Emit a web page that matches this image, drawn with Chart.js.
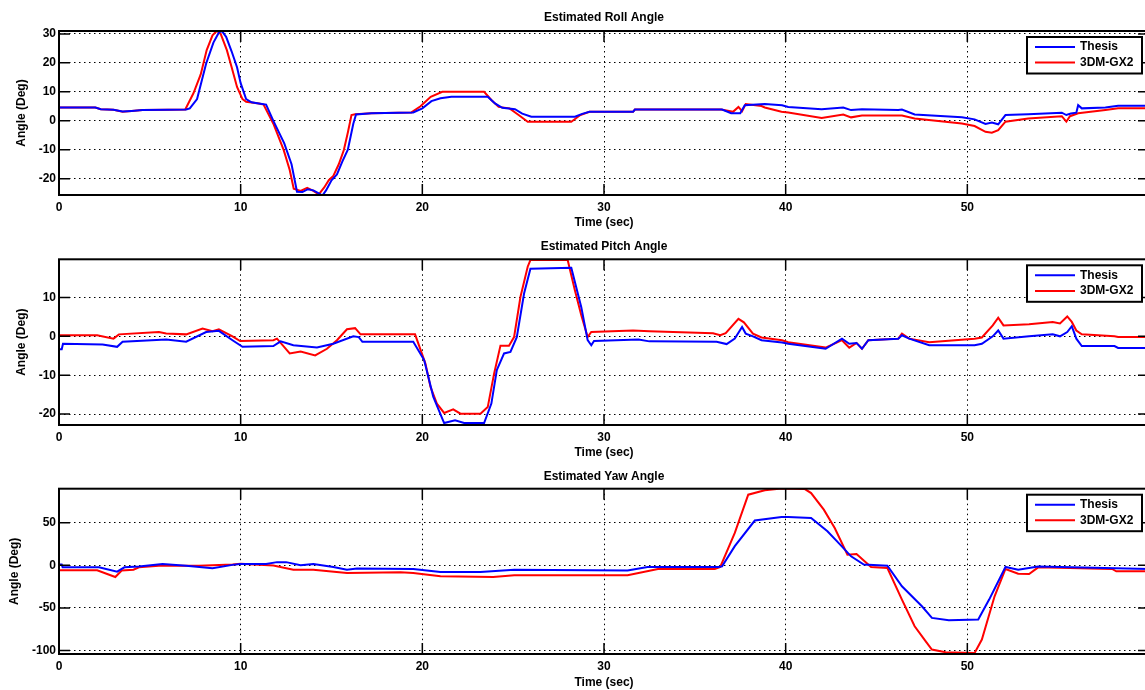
<!DOCTYPE html>
<html><head><meta charset="utf-8">
<script src="https://cdn.jsdelivr.net/npm/chart.js@4/dist/chart.umd.min.js"></script>
<style>
html,body{margin:0;padding:0;background:#fff;overflow:hidden;width:1145px;height:690px;position:relative;}
canvas{position:absolute;left:0;}
</style></head><body>
<canvas id="c1" width="1152" height="230" style="top:0px"></canvas>
<canvas id="c2" width="1152" height="230" style="top:230px"></canvas>
<canvas id="c3" width="1152" height="230" style="top:460px"></canvas>
<script>
// ---------- tick labels ----------
const xTicks = [0, 10, 20, 30, 40, 50];
const rollTicks = [-20, -10, 0, 10, 20, 30];
const pitchTicks = [-20, -10, 0, 10];
const yawTicks = [-100, -50, 0, 50];
const seriesNames = ['Thesis', '3DM-GX2'];
const titles = ['Estimated Roll Angle', 'Estimated Pitch Angle', 'Estimated Yaw Angle'];

// ---------- Roll ----------
const rollThesisT = [0,2.0,2.3,3.0,3.5,4.0,4.6,6.0,7.0,7.2,7.6,8.1,8.5,8.8,8.96,9.2,9.5,9.8,10.0,10.3,10.6,11.0,11.4,11.8,12.4,12.8,13.1,13.4,13.7,14.0,14.3,14.5,14.7,15.0,15.3,15.6,15.9,16.2,16.35,17.2,19.5,20.0,20.5,21.0,21.6,23.6,24.0,24.4,25.1,25.5,26.0,28.4,28.8,29.2,31.6,31.7,36.5,37.0,37.5,37.75,38.85,39.8,40.14,41.98,43.17,43.6,44.2,46.2,46.4,47.1,49.7,50.4,51.0,51.35,51.7,52.1,53.35,55.2,55.45,55.7,56.0,56.1,56.3,57.6,58.3,60];
const rollThesisV = [4.6,4.6,4.0,3.8,3.2,3.4,3.7,3.8,3.9,4.3,7.5,19.8,27,30.5,31,29,24,18.5,13,7.5,6.4,6.0,5.6,0,-7.8,-15,-24.5,-24.6,-23.6,-24,-25,-25.8,-24,-20.5,-18.5,-14,-10,-1,2.2,2.6,2.9,4.3,6.8,7.8,8.3,8.3,6.0,4.5,4.0,2.5,1.4,1.4,2.4,3.1,3.1,3.9,3.9,2.6,2.6,5.4,5.8,5.4,4.8,4.0,4.6,3.7,4.0,3.7,3.9,2.2,1.2,0.5,-1.1,-0.6,-1.2,2.0,2.3,2.8,2.0,2.5,2.8,5.4,4.3,4.6,5.2,5.2];
const rollGX2T = [0,2.0,2.3,3.0,3.5,4.0,4.6,6.0,6.95,7.4,7.8,8.13,8.45,8.69,8.9,9.24,9.5,9.8,10.1,10.3,11.0,11.26,11.8,12.37,12.7,12.92,13.3,13.66,14.0,14.3,14.6,14.85,15.1,15.4,15.68,15.9,16.1,16.3,17.2,19.4,19.9,20.46,21.1,23.4,23.8,24.2,24.8,25.3,25.8,28.2,28.7,29.2,31.6,31.7,36.45,37.1,37.4,37.6,37.8,38.67,38.85,39.77,40.14,41.98,43.17,43.6,44.2,46.4,47.1,49.7,50.4,51.0,51.35,51.7,52.1,53.35,55.2,55.45,55.65,56.1,57.6,58.3,60];
const rollGX2V = [4.6,4.6,4.0,3.8,3.1,3.4,3.7,3.8,3.9,9.5,16,24.4,29.5,31.1,30,24.4,18.6,11.7,7.5,6.6,6.0,5.6,-1,-10.1,-17,-23.4,-24.2,-23.1,-24.2,-25.4,-23,-20.5,-19,-15,-10.1,-4,2.0,2.3,2.6,2.9,5,8.3,10,10,7.2,4.8,4.3,2.0,-0.3,-0.3,2.0,3.1,3.1,3.9,3.9,3.1,4.8,3.3,5.8,5.1,4.6,3.1,2.9,1.0,2.2,1.2,1.8,1.8,0.8,-0.9,-1.8,-3.8,-4.1,-3.2,-0.3,0.8,1.6,-0.3,1.6,2.6,3.7,4.3,4.3];

// ---------- Pitch ----------
const pitchThesisT = [0,0.15,0.22,2.4,3.2,3.5,5.9,7.0,8.1,8.8,9.55,10.1,11.8,12.2,12.9,14.2,15.1,16.2,16.5,16.7,19.5,20.1,20.6,21.2,21.8,22.3,23.4,23.8,24.1,24.5,24.85,25.2,25.6,25.95,28.2,28.75,29.1,29.3,29.45,31.9,32.5,36.2,36.75,37.2,37.6,37.8,38.2,38.67,39.8,40.14,42.2,43.1,43.5,43.9,44.2,44.55,46.2,46.4,46.8,47.9,50.4,50.8,51.4,51.7,51.99,53.4,54.7,55.1,55.5,55.75,56.0,56.3,58.1,58.3,60];
const pitchThesisV = [-3.3,-3.3,-1.9,-2.1,-2.7,-1.4,-0.8,-1.4,1.1,1.4,-1.0,-2.7,-2.5,-1.3,-2.3,-2.9,-1.9,0,-0.2,-1.4,-1.4,-6.1,-15.5,-22.3,-21.6,-22.3,-22.3,-17.3,-8.7,-4.4,-4.0,-0.2,11.0,17.4,17.6,7.5,-1.0,-2.3,-1.2,-0.8,-1.3,-1.4,-2.0,-0.6,2.4,0.7,0,-1.0,-1.6,-1.9,-3.2,-0.6,-1.9,-1.7,-3.2,-1.0,-0.6,0.26,-0.6,-2.3,-2.3,-1.9,0,1.5,-0.6,0,0.5,0,1.1,2.6,-0.6,-2.5,-2.5,-3.0,-3.0];
const pitchGX2T = [0,2.1,3.0,3.3,5.5,5.9,7.0,7.9,8.45,8.8,9.55,9.97,11.8,12.0,12.7,13.3,14.1,14.75,15.3,15.85,16.3,16.6,19.6,20.17,20.45,20.8,21.2,21.7,22.1,23.2,23.6,23.95,24.3,24.77,25.05,25.4,25.8,25.95,28.0,28.4,28.75,29.1,29.3,31.6,32.5,36.0,36.4,36.7,37.4,37.7,38.2,38.67,39.8,40.14,42.2,43.1,43.5,43.9,44.2,44.55,46.2,46.4,46.8,47.9,50.4,50.8,51.4,51.7,51.99,53.4,54.7,55.1,55.5,55.75,56.0,56.3,58.1,58.3,60];
const pitchGX2V = [0.3,0.3,-0.6,0.5,1.1,0.7,0.5,2.0,1.3,1.8,0,-1.2,-1.0,-0.6,-4.4,-3.9,-4.9,-3.2,-1.0,1.8,2.1,0.5,0.5,-7.0,-13,-17.3,-19.7,-18.8,-19.9,-19.9,-18.2,-9.6,-2.4,-2.4,-0.2,10.1,17.9,19.6,19.6,11.8,5.4,-0.2,1.1,1.5,1.3,0.8,0.26,0.8,4.5,3.6,0.7,-0.3,-1.0,-1.5,-2.9,-1.0,-2.9,-1.7,-3.2,-1.0,-0.6,0.7,-0.6,-1.5,-0.6,-0.3,2.8,4.8,2.8,3.1,3.7,3.3,5.1,3.7,1.5,0.5,0,-0.2,-0.2];

// ---------- Yaw ----------
const yawThesisT = [0,0.15,0.2,2.2,3.2,3.6,4.4,5.7,7.0,8.45,9.55,9.97,11.4,12.0,12.5,13.3,14.0,15.1,15.85,16.4,19.5,20.99,23.2,25.06,31.3,32.4,36.3,36.5,37.2,38.3,39.77,40.14,41.4,42.3,43.0,43.6,44.3,45.6,46.4,47.5,48.05,48.98,50.6,51.2,52.1,52.8,53.9,60];
const yawThesisV = [0.8,0.8,-2.4,-2.4,-7.4,-2.4,-1.3,1.4,-0.6,-3.4,0.5,1.4,1.4,3.7,3.7,0.1,1.4,-2.0,-5.1,-3.9,-4.3,-7.8,-7.8,-5.1,-6.2,-2.0,-2.0,-1.3,22.4,52.5,56.7,56.7,55.5,39.8,24.2,10.5,0.8,-0.4,-24.6,-48.0,-61.7,-64.4,-63.6,-40.2,-2.0,-5.1,-1.3,-4.3];
const yawGX2T = [0,2.1,3.1,3.45,4.1,4.4,5.5,7.7,9.55,10.0,11.8,12.9,14.0,15.85,18.8,19.5,21.0,23.9,25.06,31.3,32.97,36.1,36.4,37.2,37.94,38.85,39.77,41.06,41.4,42.1,42.7,43.4,43.9,44.7,45.6,46.4,47.1,47.7,48.05,48.8,50.4,50.8,51.5,52.1,52.8,53.4,53.9,57.97,58.2,60];
const yawGX2V = [-5.9,-5.9,-13.7,-6.2,-5.1,-2.4,-0.6,-0.6,1.0,1.7,-0.2,-5.1,-5.1,-9.0,-8.2,-9.0,-12.9,-13.7,-11.7,-11.7,-4.3,-4.3,-2.0,38.0,82.8,87.9,90,89.4,84.7,65.2,43.7,12.5,13.3,-2.0,-3.2,-40.2,-71.5,-89.0,-98.8,-101.9,-102.7,-87.1,-36.3,-4.3,-9.8,-10.2,-2.4,-4.3,-7.0,-7.0];

// ---------- drawing ----------
const FONT = '"Liberation Sans", Arial, Helvetica, sans-serif';
Chart.defaults.font.family = FONT;
Chart.defaults.color = '#000';

function pts(t, v) { return t.map((x, i) => ({ x: x, y: v[i] })); }

const framePlugin = {
  id: 'frame',
  afterDraw(chart) {
    const ctx = chart.ctx, a = chart.chartArea, xs = chart.scales.x, ys = chart.scales.y;
    const opt = chart.options.plugins.frame;
    ctx.save();
    ctx.strokeStyle = '#000';
    ctx.lineWidth = 1.5;
    ctx.beginPath();
    xs.ticks.forEach(t => {
      const p = xs.getPixelForValue(t.value);
      ctx.moveTo(p, a.bottom); ctx.lineTo(p, a.bottom - 11);
      ctx.moveTo(p, a.top); ctx.lineTo(p, a.top + 11);
    });
    ys.ticks.forEach(t => {
      const p = ys.getPixelForValue(t.value);
      ctx.moveTo(a.left, p); ctx.lineTo(a.left + 11, p);
      ctx.moveTo(a.right, p); ctx.lineTo(a.right - 11, p);
    });
    ctx.stroke();
    ctx.lineWidth = 2;
    ctx.strokeRect(a.left, a.top, a.right - a.left, a.bottom - a.top);
    // legend box
    const bx = a.right - 122, by = a.top + opt.legendTop, bw = 115, bh = 36.5;
    ctx.fillStyle = '#fff';
    ctx.fillRect(bx, by, bw, bh);
    ctx.strokeRect(bx, by, bw, bh);
    chart.data.datasets.forEach((d, i) => {
      const cy = by + 10 + i * 15.6;
      ctx.strokeStyle = d.borderColor;
      ctx.lineWidth = 2;
      ctx.beginPath(); ctx.moveTo(bx + 8, cy); ctx.lineTo(bx + 48, cy); ctx.stroke();
      ctx.fillStyle = '#000';
      ctx.font = 'bold 12px ' + FONT;
      ctx.textBaseline = 'middle';
      ctx.textAlign = 'left';
      ctx.fillText(d.label, bx + 53, cy);
    });
    ctx.restore();
  }
};

function makeChart(id, c) {
  return new Chart(document.getElementById(id), {
    type: 'line',
    data: {
      datasets: [
        { label: seriesNames[0], data: pts(c.t1, c.v1), borderColor: '#0000ff', backgroundColor: '#0000ff', borderWidth: 2, pointRadius: 0, tension: 0 },
        { label: seriesNames[1], data: pts(c.t2, c.v2), borderColor: '#ff0000', backgroundColor: '#ff0000', borderWidth: 2, pointRadius: 0, tension: 0 }
      ]
    },
    options: {
      responsive: false, animation: false, devicePixelRatio: 1,
      events: [],
      layout: { padding: { left: 0, right: 3, top: 0, bottom: 0 } },
      plugins: {
        legend: { display: false },
        tooltip: { enabled: false },
        title: { display: true, text: c.title, fullSize: false, color: '#000',
                 font: { size: 12, weight: 'bold' }, padding: { top: c.tp, bottom: c.tb } },
        frame: { legendTop: 6 }
      },
      scales: {
        x: {
          type: 'linear', min: 0, max: 60,
          afterBuildTicks: s => { s.ticks = xTicks.map(v => ({ value: v })); },
          afterFit: s => { s.height = c.xh; },
          grid: { color: '#000', lineWidth: 1, drawTicks: false },
          border: { display: false, dash: [1.5, 3.5] },
          ticks: { color: '#000', font: { size: 12, weight: 'bold' }, padding: 5, maxRotation: 0, autoSkip: false },
          title: { display: true, text: 'Time (sec)', color: '#000', font: { size: 12, weight: 'bold' }, padding: { top: 0, bottom: 0.5 } }
        },
        y: {
          type: 'linear', min: c.ymin, max: c.ymax,
          afterBuildTicks: s => { s.ticks = c.yt.map(v => ({ value: v })); },
          afterFit: s => { s.width = 59; },
          grid: { color: '#000', lineWidth: 1, drawTicks: false },
          border: { display: false, dash: [1.5, 3.5] },
          ticks: { color: '#000', font: { size: 12, weight: 'bold' }, padding: 3, autoSkip: false },
          title: { display: true, text: 'Angle (Deg)', color: '#000', font: { size: 12, weight: 'bold' }, padding: { top: c.yp, bottom: 0 } }
        }
      }
    },
    plugins: [framePlugin]
  });
}

makeChart('c1', { title: titles[0], t1: rollThesisT, v1: rollThesisV, t2: rollGX2T, v2: rollGX2V,
  ymin: -25.6, ymax: 31, yt: rollTicks, tp: 10.3, tb: 6.3, xh: 35, yp: 14.3 });
makeChart('c2', { title: titles[1], t1: pitchThesisT, v1: pitchThesisV, t2: pitchGX2T, v2: pitchGX2V,
  ymin: -22.8, ymax: 19.8, yt: pitchTicks, tp: 9.3, tb: 5.6, xh: 35, yp: 14.3 });
makeChart('c3', { title: titles[2], t1: yawThesisT, v1: yawThesisV, t2: yawGX2T, v2: yawGX2V,
  ymin: -104, ymax: 89.8, yt: yawTicks, tp: 9.3, tb: 5.0, xh: 36, yp: 7.3 });
</script>
</body></html>
